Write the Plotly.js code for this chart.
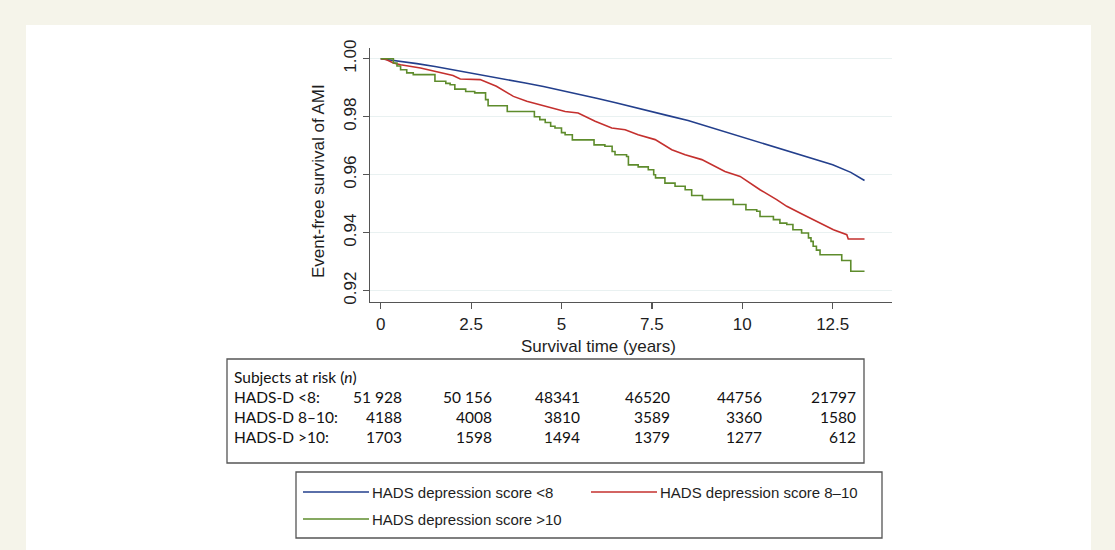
<!DOCTYPE html>
<html>
<head>
<meta charset="utf-8">
<script src="https://cdn.plot.ly/plotly-3.0.1.min.js"></script>
<style>html,body{margin:0;padding:0;background:#f5f4ea;}#chart{width:1115px;height:550px;}</style>
</head>
<body>
<div id="chart"></div>
<script>
// ---- Data ----
const seriesNames = ["HADS depression score <8", "HADS depression score 8\u201310", "HADS depression score >10"];
const seriesColors = ["#233f8c", "#c4302e", "#5e8c2c"];

const tLow = [0, 0.5, 1, 1.5, 2, 2.5, 3, 3.5, 4, 4.5, 5, 5.5, 6, 6.5, 7, 7.5, 8, 8.5, 9, 9.5, 10, 10.5, 11, 11.5, 12, 12.5, 13, 13.38];
const sLow = [1.0, 0.9992, 0.9983, 0.9973, 0.9962, 0.9951, 0.9939, 0.9928, 0.9916, 0.9904, 0.9891, 0.9877, 0.9863, 0.9848, 0.9832, 0.9816, 0.9802, 0.9787, 0.9768, 0.9750, 0.9731, 0.9712, 0.9692, 0.9672, 0.9653, 0.9634, 0.9608, 0.9580];

const tMid = [0, 0.15, 0.35, 0.55, 1.1, 1.55, 2.0, 2.2, 2.75, 3.2, 3.67, 4.04, 4.54, 5.1, 5.46, 5.93, 6.39, 6.76, 7.12, 7.59, 8.05, 8.42, 8.88, 9.25, 9.52, 9.94, 10.49, 10.95, 11.23, 11.69, 12.15, 12.52, 12.89, 12.93, 13.38];
const sMid = [1.0, 0.9997, 0.9985, 0.9979, 0.9968, 0.9956, 0.9942, 0.9930, 0.9928, 0.9905, 0.9870, 0.9853, 0.9836, 0.9818, 0.9813, 0.9784, 0.9761, 0.9755, 0.9738, 0.9721, 0.9686, 0.9669, 0.9652, 0.9627, 0.9611, 0.9594, 0.9548, 0.9514, 0.9491, 0.9462, 0.9433, 0.9410, 0.9393, 0.9378, 0.9378];

const tHigh = [0, 0.35, 0.45, 0.55, 0.72, 0.9, 1.5, 1.8, 1.92, 2.05, 2.35, 2.6, 2.9, 2.97, 3.5, 4.25, 4.4, 4.55, 4.7, 4.82, 5.0, 5.1, 5.3, 5.9, 6.2, 6.4, 6.48, 6.8, 6.85, 7.12, 7.4, 7.55, 7.6, 7.86, 8.14, 8.42, 8.6, 8.9, 9.75, 10.1, 10.4, 10.49, 10.86, 11.04, 11.23, 11.4, 11.64, 11.83, 11.9, 11.96, 12.05, 12.15, 12.75, 13.0, 13.38];
const sHigh = [1.0, 0.9985, 0.9975, 0.9962, 0.9951, 0.9945, 0.9922, 0.9915, 0.9910, 0.9895, 0.9887, 0.9882, 0.9859, 0.9838, 0.9818, 0.9800, 0.9790, 0.9780, 0.9767, 0.9761, 0.9745, 0.9738, 0.9720, 0.9703, 0.9698, 0.9680, 0.9669, 0.9663, 0.9634, 0.9627, 0.9617, 0.9600, 0.9589, 0.9571, 0.9560, 0.9548, 0.9528, 0.9514, 0.9497, 0.9479, 0.9474, 0.9456, 0.9445, 0.9433, 0.9428, 0.9410, 0.9399, 0.9382, 0.9370, 0.9353, 0.9340, 0.9324, 0.9304, 0.9267, 0.9267];

const xTicks = [0, 2.5, 5, 7.5, 10, 12.5];
const xTickText = ["0", "2.5", "5", "7.5", "10", "12.5"];
const yTicks = [0.92, 0.94, 0.96, 0.98, 1.00];
const yTickText = ["0.92", "0.94", "0.96", "0.98", "1.00"];

const xTitle = "Survival time (years)";
const yTitle = "Event-free survival of AMI";

const riskTitle = "Subjects at risk (<i>n</i>)";
const riskRowLabels = ["HADS-D <8:", "HADS-D 8\u201310:", "HADS-D >10:"];
const riskLow  = ["51 928", "50 156", "48341", "46520", "44756", "21797"];
const riskMid  = ["4188", "4008", "3810", "3589", "3360", "1580"];
const riskHigh = ["1703", "1598", "1494", "1379", "1277", "612"];

// ---- Layout geometry (pixels) ----
const W = 1115, H = 550;
const PL = 370, PR = 892, PT = 48, PB = 302;
const px = p => (p - PL) / (PR - PL);
const py = p => (PB - p) / (PB - PT);

const traces = [
  {x: tLow, y: sLow, mode: "lines", line: {color: seriesColors[0], width: 1.6}, name: seriesNames[0], showlegend: false},
  {x: tMid, y: sMid, mode: "lines", line: {color: seriesColors[1], width: 1.6}, name: seriesNames[1], showlegend: false},
  {x: tHigh, y: sHigh, mode: "lines", line: {color: seriesColors[2], width: 1.6, shape: "hv"}, name: seriesNames[2], showlegend: false}
];

const shapes = [];
const annotations = [];

// white panel
shapes.push({type: "rect", xref: "paper", yref: "paper", layer: "below",
  x0: px(26), x1: px(1091), y0: py(25), y1: py(560),
  line: {width: 0}, fillcolor: "#ffffff"});

// axis titles
annotations.push({xref: "paper", yref: "paper", x: px(598), y: py(346), text: xTitle,
  showarrow: false, xanchor: "center", yanchor: "middle",
  font: {family: "Liberation Sans, Arial, sans-serif", size: 17, color: "#1e1e1e"}});
annotations.push({xref: "paper", yref: "paper", x: px(318), y: py(181), text: yTitle, textangle: -90,
  showarrow: false, xanchor: "center", yanchor: "middle",
  font: {family: "Liberation Sans, Arial, sans-serif", size: 17, color: "#1e1e1e"}});

// risk table box
const TB = {l: 227, r: 864, t: 359, b: 463};
shapes.push({type: "rect", xref: "paper", yref: "paper",
  x0: px(TB.l), x1: px(TB.r), y0: py(TB.b), y1: py(TB.t),
  line: {color: "#555", width: 1.3}, fillcolor: "rgba(0,0,0,0)"});
const tFont = {family: "Lato, Carlito, sans-serif", size: 15.5, color: "#111"};
const rowY = [377, 397, 417, 437];
const colRight = [404, 494, 582, 672, 764, 858];
annotations.push({xref: "paper", yref: "paper", x: px(232), y: py(rowY[0]), text: riskTitle,
  showarrow: false, xanchor: "left", yanchor: "middle", font: tFont});
const riskRows = [riskLow, riskMid, riskHigh];
riskRows.forEach((row, i) => {
  annotations.push({xref: "paper", yref: "paper", x: px(232), y: py(rowY[i + 1]), text: riskRowLabels[i],
    showarrow: false, xanchor: "left", yanchor: "middle", font: tFont});
  row.forEach((v, j) => {
    annotations.push({xref: "paper", yref: "paper", x: px(colRight[j]), y: py(rowY[i + 1]), text: v,
      showarrow: false, xanchor: "right", yanchor: "middle", font: tFont});
  });
});

// legend box
const LB = {l: 296, r: 882, t: 472, b: 538};
shapes.push({type: "rect", xref: "paper", yref: "paper",
  x0: px(LB.l), x1: px(LB.r), y0: py(LB.b), y1: py(LB.t),
  line: {color: "#555", width: 1.3}, fillcolor: "rgba(0,0,0,0)"});
const legItems = [
  {x0: 303, x1: 369, y: 492},
  {x0: 591, x1: 657, y: 492},
  {x0: 303, x1: 369, y: 519}
];
const lFont = {family: "Liberation Sans, Arial, sans-serif", size: 15, color: "#1e1e1e"};
legItems.forEach((it, i) => {
  shapes.push({type: "line", xref: "paper", yref: "paper",
    x0: px(it.x0), x1: px(it.x1), y0: py(it.y), y1: py(it.y),
    line: {color: seriesColors[i], width: 1.6}});
  annotations.push({xref: "paper", yref: "paper", x: px(it.x1 + 1), y: py(it.y), text: seriesNames[i],
    showarrow: false, xanchor: "left", yanchor: "middle", font: lFont});
});

const layout = {
  width: W, height: H,
  paper_bgcolor: "#f5f4ea",
  plot_bgcolor: "rgba(0,0,0,0)",
  margin: {l: PL, r: W - PR, t: PT, b: H - PB, pad: 0},
  showlegend: false,
  xaxis: {
    range: [-0.296, 14.14], tickvals: xTicks, ticktext: xTickText,
    ticks: "outside", ticklen: 6, tickcolor: "#555", tickwidth: 1.2,
    showline: true, linecolor: "#555", linewidth: 1.3, showgrid: false, zeroline: false,
    tickfont: {family: "Liberation Sans, Arial, sans-serif", size: 17, color: "#1e1e1e"}
  },
  yaxis: {
    range: [0.91610, 1.00369], tickvals: yTicks, ticktext: yTickText, tickangle: -90,
    ticks: "outside", ticklen: 6, tickcolor: "#555", tickwidth: 1.2,
    showline: true, linecolor: "#555", linewidth: 1.3,
    showgrid: true, gridcolor: "#e9f1f1", gridwidth: 1.2, zeroline: false,
    tickfont: {family: "Liberation Sans, Arial, sans-serif", size: 17, color: "#1e1e1e"}
  },
  shapes: shapes,
  annotations: annotations
};

Plotly.newPlot("chart", traces, layout, {staticPlot: true, displayModeBar: false});
</script>
</body>
</html>
